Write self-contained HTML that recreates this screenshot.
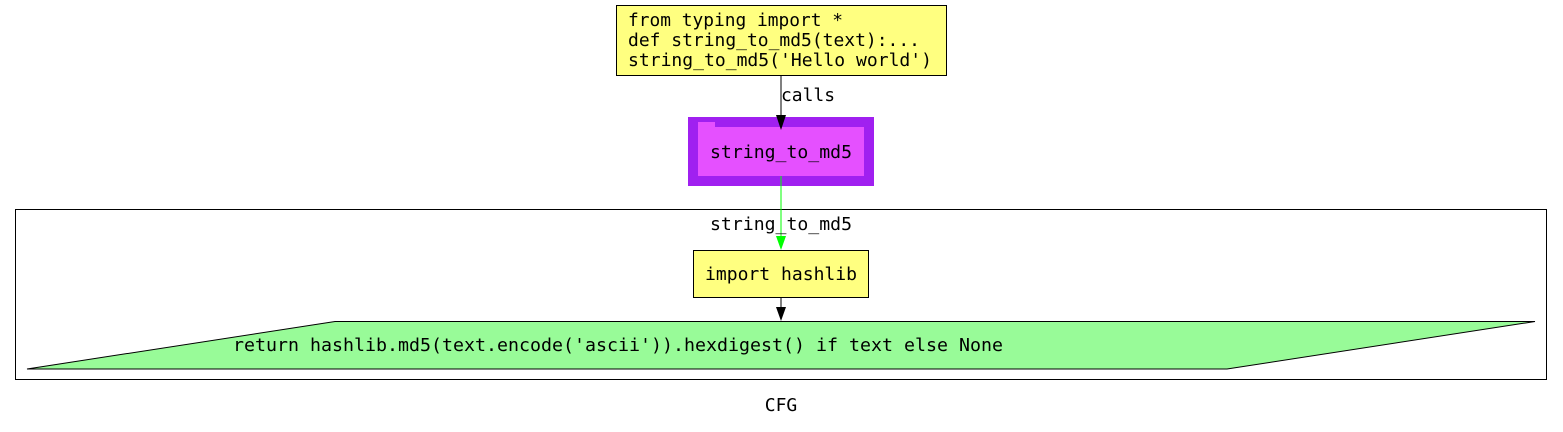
<!DOCTYPE html>
<html><head><meta charset="utf-8"><style>html,body{margin:0;padding:0;background:#fff}</style></head>
<body>
<svg width="1563" height="427" xmlns="http://www.w3.org/2000/svg" font-family="'DejaVu Sans Mono','Liberation Mono',monospace" font-size="18">
<rect x="616.5" y="5.5" width="330" height="70" fill="#ffff80" stroke="#000"/>
<text x="628" y="26" textLength="215" lengthAdjust="spacingAndGlyphs">from typing import *</text>
<text x="628" y="46" textLength="292" lengthAdjust="spacingAndGlyphs">def string_to_md5(text):...</text>
<text x="628" y="66" textLength="304" lengthAdjust="spacingAndGlyphs">string_to_md5('Hello world')</text>
<line x1="781" y1="76" x2="781" y2="118" stroke="#000"/>
<rect x="782" y="86" width="56" height="18" fill="#fff"/>
<text x="781" y="101" textLength="54" lengthAdjust="spacingAndGlyphs">calls</text>
<rect x="688" y="117" width="186" height="69" fill="#a020f0"/>
<rect x="698" y="127" width="166" height="49" fill="#e550ff"/>
<rect x="698" y="122" width="17" height="6" fill="#e550ff"/>
<polygon points="776,115 786,115 781,130" fill="#000"/>
<text x="781" y="158" text-anchor="middle" textLength="142" lengthAdjust="spacingAndGlyphs">string_to_md5</text>
<rect x="15.5" y="209.5" width="1531" height="170" fill="none" stroke="#000"/>
<line x1="781" y1="176" x2="781" y2="238" stroke="#00ff00"/>
<text x="781" y="230" text-anchor="middle" textLength="142" lengthAdjust="spacingAndGlyphs">string_to_md5</text>
<polygon points="776,236 786,236 781,250" fill="#00ff00"/>
<rect x="693.5" y="250.5" width="175" height="47" fill="#ffff80" stroke="#000"/>
<text x="781" y="280" text-anchor="middle" textLength="152" lengthAdjust="spacingAndGlyphs">import hashlib</text>
<line x1="781" y1="298" x2="781" y2="310" stroke="#000"/>
<polygon points="776,307 786,307 781,321" fill="#000"/>
<polygon points="27,369 335,321.5 1535,321.5 1227,369" fill="#98fb98" stroke="#000"/>
<text x="233" y="351" textLength="770" lengthAdjust="spacingAndGlyphs">return hashlib.md5(text.encode('ascii')).hexdigest() if text else None</text>
<text x="781" y="411" text-anchor="middle">CFG</text>
</svg>
</body></html>
